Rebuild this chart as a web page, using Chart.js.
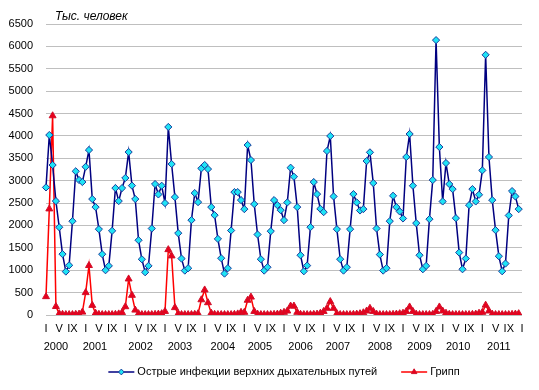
<!DOCTYPE html>
<html>
<head>
<meta charset="utf-8">
<script src="https://cdn.jsdelivr.net/npm/chart.js@4.4.0/dist/chart.umd.min.js"></script>
<style>
  html, body { margin: 0; padding: 0; background: #fff; }
  canvas { display: block; }
</style>
</head>
<body>
<canvas id="myChart" width="539" height="390"></canvas>
<script>
// Monthly cases, thousands of people, Jan 2000 - Dec 2011
const years = ['2000', '2001', '2002', '2003', '2004', '2005', '2006', '2007', '2008', '2009', '2010', '2011'];
const monthMarks = ['I', '', '', '', 'V', '', '', '', 'IX', '', '', ''];
const yearCenters = [3, 14.8, 28.6, 40.5, 53.5, 64.7, 77, 88.3, 101, 113, 124.7, 137];
const unitLabel = 'Тыс. человек';

const ariName = 'Острые инфекции верхних дыхательных путей';
const ari = [
  2850, 4020, 3350, 2545, 1960, 1360, 970, 1110, 2095, 3210, 3015, 2970,
  3310, 3685, 2590, 2410, 1917, 1358, 1000, 1097, 1880, 2835, 2545, 2835,
  3060, 3640, 2890, 2590, 1670, 1245, 955, 1097, 1932, 2925, 2693, 2887,
  2500, 4200, 3372, 2633, 1828, 1260, 992, 1045, 2119, 2723, 2521, 3275,
  3350, 3260, 2410, 2230, 1700, 1268, 925, 1045, 1887, 2745, 2745, 2566,
  2365, 3797, 3461, 2477, 1798, 1246, 992, 1067, 1872, 2566, 2454, 2342,
  2119, 2514, 3290, 3088, 2410, 1335, 977, 1104, 1962, 2969, 2700, 2372,
  2298, 3663, 3998, 2648, 1917, 1246, 992, 1067, 1917, 2700, 2514, 2335,
  2365, 3439, 3633, 2947, 1932, 1350, 992, 1045, 2096, 2663, 2410, 2313,
  2156, 3529, 4043, 2887, 2052, 1335, 1022, 1097, 2141, 3014, 6140, 3752,
  2536, 3394, 2925, 2812, 2163, 1395, 1022, 1260, 2454, 2812, 2536, 2686,
  3230, 5811, 3529, 2566, 1895, 1313, 977, 1149, 2223, 2768, 2648, 2365
];

const fluName = 'Грипп';
const flu = [
  410, 2370, 4450, 190, 30, 15, 10, 10, 10, 15, 20, 65,
  500, 1105, 215, 40, 15, 10, 10, 10, 10, 15, 25, 55,
  185, 805, 440, 110, 30, 10, 10, 10, 10, 15, 20, 30,
  80, 1460, 1320, 165, 30, 10, 10, 10, 10, 15, 30, 340,
  560, 275, 40, 15, 10, 10, 10, 10, 10, 15, 25, 60,
  60, 330, 400, 80, 20, 10, 10, 10, 10, 15, 20, 40,
  60, 90, 200, 200, 60, 15, 10, 10, 10, 15, 20, 40,
  80, 150, 300, 150, 30, 10, 10, 10, 10, 15, 20, 30,
  50, 90, 150, 80, 20, 10, 10, 10, 10, 15, 20, 30,
  40, 80, 180, 80, 20, 10, 10, 10, 10, 15, 80, 180,
  90, 40, 15, 10, 10, 10, 10, 10, 10, 15, 20, 40,
  60, 220, 90, 20, 10, 10, 10, 10, 10, 15, 20, 30
];

// one category per month plus the closing January tick
const labels = [];
for (let i = 0; i <= ari.length; i++) labels.push(monthMarks[i % 12]);

const font = '"Liberation Sans", Arial, sans-serif';

// title text and an Excel style legend (line with marker)
const extras = {
  id: 'extras',
  afterDraw(chart) {
    const { ctx, chartArea } = chart;
    ctx.save();
    ctx.fillStyle = '#000';
    ctx.textBaseline = 'middle';
    ctx.font = 'italic 12px ' + font;
    ctx.fillText(unitLabel, chartArea.left + 9, 17);

    ctx.font = '11px ' + font;
    const lineW = 26, gap = 3, spacing = 24, y = 372;
    const items = chart.data.datasets.map(ds => ({ ds, w: ctx.measureText(ds.label).width }));
    const total = items.reduce((s, it) => s + lineW + gap + it.w, 0) + spacing * (items.length - 1);
    let x = (chartArea.left + chartArea.right) / 2 - total / 2;
    items.forEach(({ ds, w }) => {
      ctx.strokeStyle = ds.borderColor;
      ctx.lineWidth = ds.borderWidth;
      ctx.beginPath();
      ctx.moveTo(x, y);
      ctx.lineTo(x + lineW, y);
      ctx.stroke();
      ctx.fillStyle = ds.pointBackgroundColor;
      ctx.strokeStyle = ds.pointBorderColor;
      ctx.lineWidth = 1;
      Chart.helpers.drawPoint(ctx, { pointStyle: ds.pointStyle, radius: ds.pointRadius * 0.8, borderWidth: 1 }, x + lineW / 2, y);
      ctx.fillStyle = '#000';
      ctx.fillText(ds.label, x + lineW + gap, y);
      x += lineW + gap + w + spacing;
    });
    ctx.restore();
  }
};

const ctx = document.getElementById('myChart').getContext('2d');
const myChart = new Chart(ctx, {
  type: 'line',
  data: {
    labels: labels,
    datasets: [{
      label: ariName,
      data: ari,
      borderColor: '#000080',
      borderWidth: 1.5,
      pointStyle: 'rectRot',
      pointRadius: 3.6,
      pointBackgroundColor: '#1EE3F5',
      pointBorderColor: '#1A3C9C',
      pointBorderWidth: 1,
      tension: 0
    }, {
      label: fluName,
      data: flu,
      borderColor: '#FF0000',
      borderWidth: 1.5,
      pointStyle: 'triangle',
      pointRadius: 4,
      pointBackgroundColor: '#E8001C',
      pointBorderColor: '#D0102A',
      pointBorderWidth: 1,
      tension: 0
    }]
  },
  options: {
    responsive: false,
    animation: false,
    devicePixelRatio: 1,
    layout: { padding: { top: 24, right: 17, bottom: 35, left: 0 } },
    plugins: {
      legend: { display: false },
      tooltip: { enabled: false }
    },
    scales: {
      x: {
        type: 'category',
        offset: false,
        grid: { display: false, drawTicks: false },
        border: { display: false },
        ticks: {
          autoSkip: false,
          maxRotation: 0,
          padding: 7,
          color: '#000',
          font: { family: font, size: 11 }
        },
        afterFit: s => { s.height = 20; }
      },
      years: {
        type: 'linear',
        position: 'bottom',
        weight: 1,
        min: 0,
        max: ari.length,
        grid: { display: false, drawTicks: false },
        border: { display: false },
        afterBuildTicks: s => { s.ticks = yearCenters.map(v => ({ value: v })); },
        ticks: {
          autoSkip: false,
          maxRotation: 0,
          padding: 5,
          color: '#000',
          font: { family: font, size: 11 },
          callback: (v, i) => years[i]
        },
        afterFit: s => { s.height = 20; }
      },
      y: {
        min: 0,
        max: 6500,
        grid: { color: '#BFBFBF', drawTicks: false },
        border: { display: false },
        ticks: {
          stepSize: 500,
          padding: 13,
          color: '#000',
          font: { family: font, size: 11 },
          callback: v => String(v)
        },
        afterFit: s => { s.width = 46; }
      }
    }
  },
  plugins: [extras]
});
</script>
</body>
</html>
